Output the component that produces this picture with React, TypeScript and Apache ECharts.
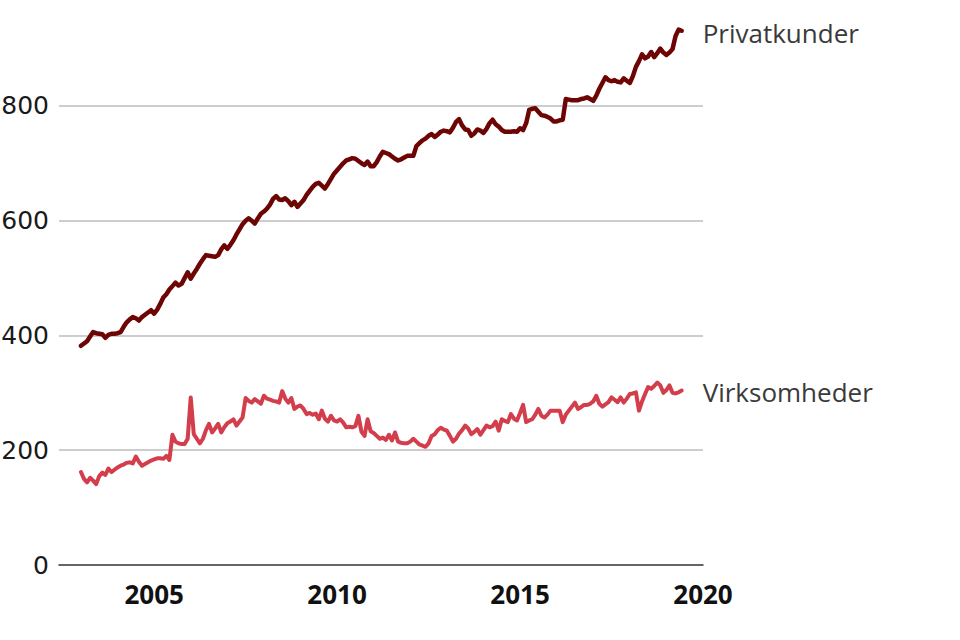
import React, { useEffect, useRef } from "react";
import * as echarts from "echarts";

const START_YEAR = 2003;

const privatkunder: number[] = [
  // 2003
  382, 386, 390, 398, 406, 404, 403, 402, 396, 401, 403, 403,
  // 2004
  404, 406, 415, 423, 428, 432, 430, 426, 432, 436, 440, 444,
  // 2005
  438, 445, 455, 466, 472, 480, 486, 492, 487, 490, 500, 510,
  // 2006
  499, 508, 516, 525, 533, 540, 539, 538, 537, 540, 550, 557,
  // 2007
  551, 558, 566, 576, 585, 594, 600, 604, 600, 595, 604, 612,
  // 2008
  616, 621, 628, 638, 643, 637, 636, 639, 634, 627, 633, 624,
  // 2009
  630, 636, 645, 652, 659, 664, 666, 661, 656, 664, 673, 682,
  // 2010
  688, 694, 700, 705, 707, 709, 708, 704, 700, 697, 703, 695,
  // 2011
  695, 702, 712, 720, 718, 716, 712, 708, 705, 707, 710, 713,
  // 2012
  713, 713, 730, 735, 740, 743, 748, 751, 746, 750, 755, 757,
  // 2013
  756, 754, 762, 772, 777, 766, 759, 758, 748, 752, 759, 757,
  // 2014
  753, 760, 770, 776, 768, 764, 758, 755, 755, 755, 756, 755,
  // 2015
  761, 758, 770, 793, 795, 796, 790, 784, 783, 781, 778, 773,
  // 2016
  773, 775, 776, 812, 811, 810, 810, 810, 812, 813, 815, 812,
  // 2017
  809, 818, 830, 840, 850, 845, 843, 845, 842, 841, 848, 844,
  // 2018
  840, 852, 868, 878, 890, 883, 886, 894, 885, 892, 900, 893,
  // 2019
  889, 893, 899, 922, 933, 931,
];

const virksomheder: number[] = [
  // 2003
  162, 150, 144, 152, 147, 141, 155, 161, 157, 168, 162, 166,
  // 2004
  170, 173, 175, 178, 179, 177, 189, 180, 173, 176, 179, 182,
  // 2005
  184, 186, 186, 185, 190, 183, 227, 215, 212, 211, 211, 220,
  // 2006
  292, 228, 220, 212, 220, 235, 246, 231, 238, 246, 231, 240,
  // 2007
  247, 250, 254, 243, 250, 257, 291, 286, 283, 289, 285, 281,
  // 2008
  295, 290, 288, 286, 285, 283, 303, 290, 283, 291, 272, 276,
  // 2009
  278, 272, 263, 265, 262, 264, 254, 269, 255, 250, 260, 252,
  // 2010
  250, 254, 248, 240, 241, 240, 242, 260, 232, 225, 254, 233,
  // 2011
  230, 225, 220, 222, 218, 227, 217, 231, 215, 213, 212, 212,
  // 2012
  215, 220, 215, 210, 208, 206, 212, 225, 228, 235, 239, 236,
  // 2013
  234, 225, 215, 220, 229, 235, 243, 238, 228, 232, 237, 227,
  // 2014
  235, 243, 240, 242, 250, 234, 254, 251, 249, 263, 255, 252,
  // 2015
  265, 279, 249, 252, 254, 262, 272, 260, 257, 262, 269, 269,
  // 2016
  269, 269, 249, 262, 269, 276, 283, 272, 275, 279, 279, 281,
  // 2017
  285, 295, 281, 276, 280, 284, 292, 288, 284, 292, 283, 290,
  // 2018
  298, 299, 301, 269, 285, 298, 310, 307, 312, 318, 313, 300,
  // 2019
  305, 313, 300, 299, 301, 304,
];

const seriesNames = ["Privatkunder", "Virksomheder"];
const seriesColors = ["#6e0505", "#d33e4c"];
const yTicks = [0, 200, 400, 600, 800];
const xLabelYears = [2005, 2010, 2015, 2020];

const toPoints = (vals: number[]) =>
  vals.map((v, i) => [START_YEAR + i / 12, v]);

export default function App() {
  const ref = useRef<HTMLDivElement>(null);

  useEffect(() => {
    if (!ref.current) return;
    const chart = echarts.init(ref.current, undefined, { renderer: "svg" });
    const labelFont = "'Open Sans', 'Noto Sans', sans-serif";
    chart.setOption({
      animation: false,
      backgroundColor: "#ffffff",
      grid: {
        left: 59,
        right: 257,
        top: 25.6,
        bottom: 75,
        containLabel: false,
        outerBoundsMode: "none",
      },
      xAxis: {
        type: "value",
        min: 2002.4,
        max: 2020,
        interval: 0.1,
        axisLine: { show: true, lineStyle: { color: "#333333", width: 1.5 } },
        axisTick: { show: false },
        splitLine: { show: false },
        axisLabel: {
          margin: 16,
          color: "#111111",
          fontFamily: labelFont,
          fontWeight: "bold",
          fontSize: 26,
          formatter: (v: number) => {
            const r = Math.round(v);
            return Math.abs(v - r) < 1e-6 && xLabelYears.includes(r) ? String(r) : "";
          },
        },
      },
      yAxis: {
        type: "value",
        min: yTicks[0],
        max: 940,
        interval: 200,
        axisLine: { show: false },
        axisTick: { show: false },
        splitLine: {
          show: true,
          showMinLine: false,
          showMaxLine: false,
          lineStyle: { color: "#bdbdbd", width: 1.5 },
        },
        axisLabel: {
          margin: 10,
          color: "#1a1a1a",
          fontFamily: "'DejaVu Sans', sans-serif",
          fontSize: 25,
          showMaxLabel: false,
          formatter: (v: number) => (yTicks.includes(v) ? String(v) : ""),
        },
      },
      series: [privatkunder, virksomheder].map((vals, idx) => ({
        name: seriesNames[idx],
        type: "line",
        data: toPoints(vals),
        showSymbol: false,
        symbol: "none",
        lineStyle: { color: seriesColors[idx], width: idx === 0 ? 4.5 : 4, cap: "round", join: "round" },
        itemStyle: { color: seriesColors[idx] },
        endLabel: {
          show: true,
          formatter: "{a}",
          distance: 21,
          offset: [0, idx === 0 ? 2 : 1],
          color: "#3a3a3a",
          fontFamily: labelFont,
          fontSize: 26,
        },
      })),
    });
    return () => chart.dispose();
  }, []);

  return (
    <div
      ref={ref}
      style={{ position: "fixed", left: 0, top: 0, width: 960, height: 640 }}
    />
  );
}
